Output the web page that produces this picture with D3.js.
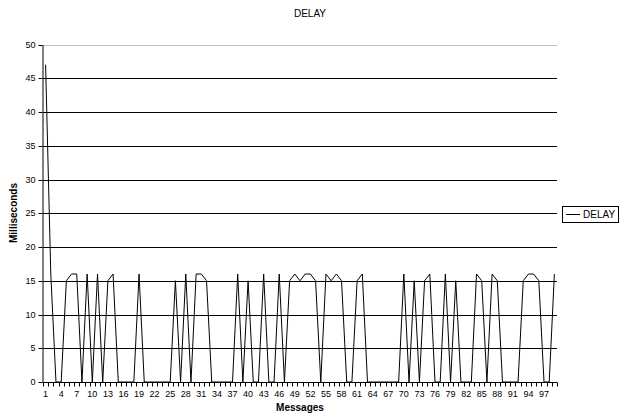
<!DOCTYPE html>
<html>
<head>
<meta charset="utf-8">
<script src="https://cdn.jsdelivr.net/npm/d3@7"></script>
<style>
  body { margin: 0; background: #fff; }
  svg { display: block; font-family: "Liberation Sans", Arial, sans-serif; }
</style>
</head>
<body>
<svg id="chart" width="620" height="419"></svg>
<script>
const messages = [1,2,3,4,5,6,7,8,9,10,11,12,13,14,15,16,17,18,19,20,21,22,23,24,25,26,27,28,29,30,31,32,33,34,35,36,37,38,39,40,41,42,43,44,45,46,47,48,49,50,51,52,53,54,55,56,57,58,59,60,61,62,63,64,65,66,67,68,69,70,71,72,73,74,75,76,77,78,79,80,81,82,83,84,85,86,87,88,89,90,91,92,93,94,95,96,97,98,99];
const delay = [47,16,0,0,15,16,16,0,16,0,16,0,15,16,0,0,0,0,16,0,0,0,0,0,0,15,0,16,0,16,16,15,0,0,0,0,0,16,0,15,0,0,16,0,0,16,0,15,16,15,16,16,15,0,16,15,16,15,0,0,15,16,0,0,0,0,0,0,0,16,0,15,0,15,16,0,0,16,0,15,0,0,0,16,15,0,16,15,0,0,0,0,15,16,16,15,0,0,16];
const xTickLabels = [1,4,7,10,13,16,19,22,25,28,31,34,37,40,43,46,49,52,55,58,61,64,67,70,73,76,79,82,85,88,91,94,97];
const yTicks = [0,5,10,15,20,25,30,35,40,45,50];
const seriesName = "DELAY";
const chartTitle = "DELAY";
const xTitle = "Messages";
const yTitle = "Milliseconds";

const svg = d3.select("#chart");
const L = 43, R = 557, T = 44.5, B = 382;

const x = d3.scaleBand().domain(messages).range([L, R]).padding(0);
const y = d3.scaleLinear().domain([0, 50]).range([B, T]);

// gridlines
svg.append("g").selectAll("line")
  .data(yTicks.filter(d => d > 0))
  .join("line")
  .attr("x1", L).attr("x2", R)
  .attr("y1", d => Math.round(y(d)) + 0.5).attr("y2", d => Math.round(y(d)) + 0.5)
  .attr("stroke", d => d === 50 ? "#c0c0c0" : "#000")
  .attr("stroke-width", 1);

// y axis
const yAxis = d3.axisLeft(y).tickValues(yTicks).tickSize(4).tickPadding(3).tickSizeOuter(0);
const gy = svg.append("g").attr("transform", `translate(${L - 0.5},0)`).call(yAxis);
gy.select(".domain").attr("stroke", "#000");
gy.selectAll(".tick line").attr("stroke", "#000")
  .attr("transform", function(){ return null; });
gy.selectAll(".tick").attr("transform", d => `translate(0,${Math.round(y(d)) + 0.5})`);
gy.selectAll("text").attr("font-size", 9).attr("fill", "#000").attr("font-family", "Liberation Sans, Arial, sans-serif");

// x axis (ticks at category boundaries)
const gx = svg.append("g").attr("transform", `translate(0,${Math.round(B) + 0.5})`);
gx.append("line").attr("x1", L - 0.5).attr("x2", R).attr("y1", 0).attr("y2", 0).attr("stroke", "#000");
const boundaries = messages.map(m => x(m)).concat([R]);
gx.selectAll("line.tk").data(boundaries).join("line").attr("class", "tk")
  .attr("x1", d => Math.round(d) + 0.5).attr("x2", d => Math.round(d) + 0.5)
  .attr("y1", 0).attr("y2", 4).attr("stroke", "#000");
gx.selectAll("text").data(xTickLabels).join("text")
  .attr("x", d => x(d) + x.bandwidth() / 2)
  .attr("y", 14)
  .attr("text-anchor", "middle")
  .attr("font-size", 9)
  .text(d => d);

// line
const line = d3.line()
  .x((d, i) => x(messages[i]) + x.bandwidth() / 2)
  .y(d => y(d));
svg.append("path").datum(delay)
  .attr("d", line)
  .attr("fill", "none")
  .attr("stroke", "#000")
  .attr("stroke-width", 1);

// titles
svg.append("text").attr("x", 310).attr("y", 17).attr("text-anchor", "middle")
  .attr("font-size", 10).text(chartTitle);
svg.append("text").attr("x", 300).attr("y", 411).attr("text-anchor", "middle")
  .attr("font-size", 10).attr("font-weight", "bold").text(xTitle);
svg.append("text").attr("transform", "translate(17,213) rotate(-90)").attr("text-anchor", "middle")
  .attr("font-size", 10).attr("font-weight", "bold").text(yTitle);

// legend
const lg = svg.append("g");
lg.append("rect").attr("x", 562.5).attr("y", 206.5).attr("width", 56).attr("height", 16)
  .attr("fill", "#fff").attr("stroke", "#000");
lg.append("line").attr("x1", 566).attr("x2", 580).attr("y1", 214.5).attr("y2", 214.5).attr("stroke", "#000");
lg.append("text").attr("x", 583).attr("y", 218).attr("font-size", 10).text(seriesName);
</script>
</body>
</html>
